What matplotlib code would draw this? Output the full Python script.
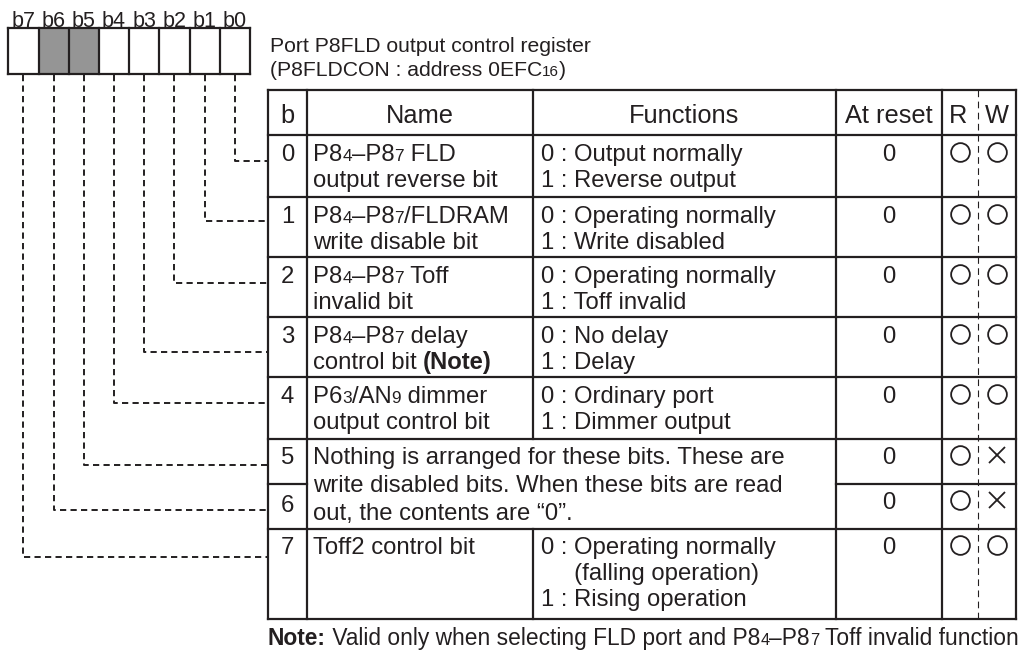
import re
import matplotlib
matplotlib.use("Agg")
import matplotlib.pyplot as plt

# ---------------- data ----------------
bit_labels = ["b7", "b6", "b5", "b4", "b3", "b2", "b1", "b0"]
shaded_bits = ["b6", "b5"]
title_lines = ["Port P8FLD output control register",
               "(P8FLDCON : address 0EFC_{16})"]
headers = ["b", "Name", "Functions", "At reset", "R", "W"]
row_bits = ["0", "1", "2", "3", "4", "5", "6", "7"]
names = [
    ["P8_{4}–P8_{7} FLD", "output reverse bit"],
    ["P8_{4}–P8_{7}/FLDRAM", "write disable bit"],
    ["P8_{4}–P8_{7} Toff", "invalid bit"],
    ["P8_{4}–P8_{7} delay", "control bit **(Note)**"],
    ["P6_{3}/AN_{9} dimmer", "output control bit"],
    None,
    None,
    ["Toff2 control bit"],
]
functions = [
    ["0 : Output normally", "1 : Reverse output"],
    ["0 : Operating normally", "1 : Write disabled"],
    ["0 : Operating normally", "1 : Toff invalid"],
    ["0 : No delay", "1 : Delay"],
    ["0 : Ordinary port", "1 : Dimmer output"],
    None,
    None,
    ["0 : Operating normally", "     (falling operation)", "1 : Rising operation"],
]
merged_text = ["Nothing is arranged for these bits. These are",
               "write disabled bits. When these bits are read",
               "out, the contents are “0”."]
reset_values = ["0", "0", "0", "0", "0", "0", "0", "0"]
read_access = ["O", "O", "O", "O", "O", "O", "O", "O"]
write_access = ["O", "O", "O", "O", "O", "X", "X", "O"]
note_text = "**Note:** Valid only when selecting FLD port and P8_{4}–P8_{7} Toff invalid function"

# ---------------- layout ----------------
W, H, DPI = 1018, 653, 100
INK = "#231f20"
GRAY = "#959595"
plt.rcParams['font.family'] = ['Liberation Sans', 'DejaVu Sans']

BODY = 17.2
HEAD = 18.3
TITLE = 15.2
BITS = 15.5
NOTE = 16.4

box_left, box_right, box_top, box_bot = 8.3, 250.0, 28.0, 74.0
col_x = [268, 307, 533, 836, 942, 978, 1016]
row_y = [90, 135, 197, 257, 317, 377, 439, 484, 529, 619]
conn_y = [161, 221, 283, 352, 403, 465, 510, 557]

fig = plt.figure(figsize=(W / DPI, H / DPI), dpi=DPI)
ax = fig.add_axes([0, 0, 1, 1])
ax.set_xlim(0, W)
ax.set_ylim(H, 0)
ax.axis("off")
renderer = fig.canvas.get_renderer()

TOKEN = re.compile(r"(\*\*.*?\*\*|_\{.*?\})")


def segments(s):
    out = []
    for part in TOKEN.split(s):
        if not part:
            continue
        if part.startswith("**"):
            out.append((part[2:-2], 1.0, "bold"))
        elif part.startswith("_{"):
            out.append((part[2:-1], 0.72, "normal"))
        else:
            out.append((part, 1.0, "normal"))
    return out


def draw_rich(x, yc, s, size, ha="left"):
    px = size * DPI / 72.0
    base = yc + 0.36 * px
    segs = segments(s)
    arts = []
    cx = x
    for txt, f, wt in segs:
        t = ax.text(cx, base, txt, fontsize=size * f, fontweight=wt,
                    color=INK, va="baseline", ha="left")
        w = t.get_window_extent(renderer).width
        arts.append(t)
        cx += w
    if ha == "center":
        shift = (cx - x) / 2.0
        for t in arts:
            t.set_x(t.get_position()[0] - shift)


def line(xs, ys, lw=1.5, ls="-", color=INK):
    ax.plot(xs, ys, color=color, lw=lw, ls=ls, solid_capstyle="projecting",
            dash_capstyle="butt")


# ---- register box ----
cw = (box_right - box_left) / len(bit_labels)
for i, lab in enumerate(bit_labels):
    x0 = box_left + i * cw
    if lab in shaded_bits:
        ax.add_patch(plt.Rectangle((x0, box_top), cw, box_bot - box_top,
                                   facecolor=GRAY, edgecolor="none"))
    draw_rich(x0 + cw / 2, 19, lab, BITS, ha="center")
for i in range(len(bit_labels) + 1):
    xx = box_left + i * cw
    line([xx, xx], [box_top, box_bot], lw=1.6)
line([box_left, box_right], [box_top, box_top], lw=1.6)
line([box_left, box_right], [box_bot, box_bot], lw=1.6)

# ---- connectors ----
for i, lab in enumerate(bit_labels):
    bit = int(lab[1:])
    xc = box_left + i * cw + cw / 2
    yy = conn_y[bit]
    ax.plot([xc, xc, col_x[0]], [box_bot + 1, yy, yy], color=INK, lw=1.4,
            ls=(0, (3.2, 2.2)), dash_capstyle="butt")

# ---- title ----
draw_rich(270, 44, title_lines[0], TITLE)
draw_rich(270, 68, title_lines[1], TITLE)

# ---- table grid ----
LW = 1.6
x_l, x_b, x_n, x_f, x_r, x_rw, x_e = col_x
line([x_l, x_e], [row_y[0], row_y[0]], lw=LW)
line([x_l, x_e], [row_y[-1], row_y[-1]], lw=LW)
for k in range(1, len(row_y) - 1):
    yy = row_y[k]
    if k == 7:  # between bit 5 and bit 6 (merged region)
        line([x_l, x_b], [yy, yy], lw=LW)
        line([x_f, x_e], [yy, yy], lw=LW)
    else:
        line([x_l, x_e], [yy, yy], lw=LW)
for xx in [x_l, x_b, x_f, x_r, x_e]:
    line([xx, xx], [row_y[0], row_y[-1]], lw=LW)
# Name/Functions divider, absent in merged rows 5-6
line([x_n, x_n], [row_y[0], row_y[6]], lw=LW)
line([x_n, x_n], [row_y[8], row_y[-1]], lw=LW)
# R/W dashed divider
ax.plot([x_rw, x_rw], [row_y[0], row_y[-1]], color=INK, lw=0.8,
        ls=(0, (6, 4)))

# ---- header ----
hy = (row_y[0] + row_y[1]) / 2 + 1
centers = [(x_l + x_b) / 2, (x_b + x_n) / 2, (x_n + x_f) / 2,
           (x_f + x_r) / 2, (x_r + x_rw) / 2 - 2, (x_rw + x_e) / 2]
for hname, cx in zip(headers, centers):
    draw_rich(cx, hy, hname, HEAD, ha="center")

# ---- rows ----
first_off = [17, 17, 17, 17, 17, 16, 16, 16]
for r in range(8):
    top = row_y[r + 1]
    y1 = top + first_off[r]
    draw_rich(centers[0], y1 + (3 if r == 6 else 0), row_bits[r], BODY, ha="center")
    if names[r] is not None:
        for j, s in enumerate(names[r]):
            draw_rich(x_b + 6, y1 + 26 * j, s, BODY)
    if functions[r] is not None:
        for j, s in enumerate(functions[r]):
            draw_rich(x_n + 8, y1 + 26 * j, s, BODY)
    draw_rich(centers[3], y1, reset_values[r], BODY, ha="center")
    ax.plot([centers[4] + 2], [y1], marker="o", ms=13.5, mfc="none",
            mec=INK, mew=1.3, ls="none")
    mk = "o" if write_access[r] == "O" else "x"
    ax.plot([centers[5]], [y1], marker=mk, ms=13.5 if mk == "o" else 12,
            mfc="none", mec=INK, mew=1.3, ls="none")

# merged text for bits 5-6
for j, s in enumerate(merged_text):
    draw_rich(x_b + 6, row_y[6] + 16 + 28 * j, s, BODY)

# ---- note ----
draw_rich(x_l, 637, note_text, NOTE)

fig.savefig("out.png", dpi=DPI)
